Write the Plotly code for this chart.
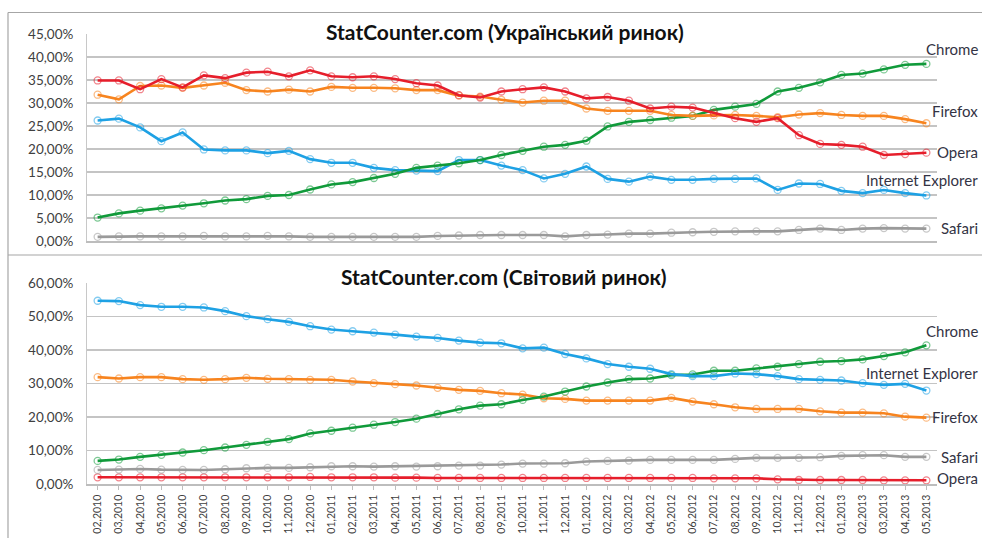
import plotly.graph_objects as go

months = ["02,2010", "03,2010", "04,2010", "05,2010", "06,2010", "07,2010", "08,2010", "09,2010",
          "10,2010", "11,2010", "12,2010", "01,2011", "02,2011", "03,2011", "04,2011", "05,2011",
          "06,2011", "07,2011", "08,2011", "09,2011", "10,2011", "11,2011", "12,2011", "01,2012",
          "02,2012", "03,2012", "04,2012", "05,2012", "06,2012", "07,2012", "08,2012", "09,2012",
          "10,2012", "11,2012", "12,2012", "01,2013", "02,2013", "03,2013", "04,2013", "05,2013"]

# Ukrainian market (%)
ua_chrome = [5.1, 6.0, 6.6, 7.1, 7.7, 8.2, 8.8, 9.1, 9.8, 10.0, 11.2, 12.3, 12.8, 13.7, 14.6, 15.9,
             16.4, 16.9, 17.6, 18.7, 19.6, 20.5, 20.9, 21.8, 24.9, 25.9, 26.3, 26.8, 27.2, 28.5,
             29.2, 29.8, 32.5, 33.3, 34.5, 36.1, 36.4, 37.3, 38.3, 38.5]
ua_firefox = [31.8, 30.8, 33.7, 33.8, 33.3, 33.8, 34.4, 32.8, 32.5, 32.9, 32.5, 33.5, 33.3, 33.3,
              33.2, 32.8, 32.8, 31.6, 31.4, 30.7, 30.1, 30.5, 30.5, 28.8, 28.3, 28.3, 28.3, 27.4,
              27.2, 27.3, 27.4, 27.2, 26.9, 27.5, 27.8, 27.4, 27.2, 27.2, 26.5, 25.6]
ua_opera = [34.9, 34.9, 33.0, 35.2, 33.4, 36.0, 35.4, 36.6, 36.8, 35.8, 37.1, 35.8, 35.6, 35.8,
            35.2, 34.3, 33.8, 31.7, 31.2, 32.5, 33.0, 33.4, 32.5, 31.0, 31.3, 30.5, 28.8, 29.2,
            29.0, 27.8, 26.7, 25.9, 26.7, 23.0, 21.1, 20.9, 20.5, 18.7, 18.9, 19.2]
ua_ie = [26.2, 26.6, 24.7, 21.7, 23.6, 19.9, 19.7, 19.7, 19.1, 19.6, 17.8, 17.0, 17.0, 15.9, 15.4,
         15.3, 15.2, 17.6, 17.6, 16.4, 15.4, 13.6, 14.6, 16.2, 13.5, 12.9, 14.0, 13.3, 13.3, 13.5,
         13.5, 13.6, 11.1, 12.5, 12.4, 10.9, 10.4, 11.1, 10.4, 9.9]
ua_safari = [0.9, 1.0, 1.0, 1.0, 1.0, 1.1, 1.0, 1.0, 1.1, 1.0, 0.9, 0.9, 0.9, 0.9, 0.9, 0.9, 1.1,
             1.2, 1.3, 1.3, 1.3, 1.3, 1.0, 1.3, 1.4, 1.6, 1.6, 1.8, 1.9, 2.0, 2.1, 2.1, 2.1, 2.4,
             2.7, 2.4, 2.7, 2.8, 2.7, 2.7]

# World market (%)
w_chrome = [6.9, 7.3, 8.1, 8.7, 9.4, 10.1, 10.9, 11.7, 12.6, 13.4, 15.1, 15.9, 16.8, 17.7, 18.5,
            19.5, 20.9, 22.3, 23.4, 23.8, 25.1, 26.1, 27.6, 29.1, 30.3, 31.3, 31.5, 32.5, 32.7,
            33.8, 33.8, 34.5, 35.0, 35.8, 36.5, 36.7, 37.2, 38.2, 39.3, 41.4]
w_firefox = [31.9, 31.5, 31.9, 31.9, 31.3, 31.1, 31.3, 31.7, 31.4, 31.3, 31.1, 31.1, 30.6, 30.1,
             29.8, 29.4, 28.7, 28.1, 27.8, 27.1, 26.7, 25.6, 25.4, 24.9, 24.9, 24.9, 24.9, 25.7,
             24.6, 23.8, 22.9, 22.4, 22.4, 22.4, 21.7, 21.3, 21.3, 21.1, 20.1, 19.8]
w_ie = [54.7, 54.6, 53.4, 52.9, 52.9, 52.7, 51.6, 50.1, 49.2, 48.4, 47.1, 46.1, 45.6, 45.2, 44.6,
        44.0, 43.6, 42.8, 42.2, 42.0, 40.5, 40.7, 38.8, 37.5, 35.8, 35.0, 34.4, 32.8, 32.2, 32.2,
        33.0, 32.8, 32.2, 31.3, 31.1, 30.9, 30.1, 29.6, 29.9, 27.9]
w_safari = [4.2, 4.3, 4.5, 4.3, 4.2, 4.2, 4.4, 4.7, 4.8, 4.8, 5.0, 5.3, 5.3, 5.2, 5.3, 5.2, 5.3,
            5.5, 5.5, 5.8, 6.1, 6.1, 6.2, 6.7, 6.9, 7.0, 7.2, 7.2, 7.2, 7.2, 7.5, 7.8, 7.8, 7.8,
            8.0, 8.4, 8.6, 8.6, 8.1, 8.1]
w_opera = [2.0, 2.0, 2.0, 2.0, 2.0, 2.0, 2.0, 2.0, 2.0, 2.0, 2.1, 2.0, 2.0, 2.0, 1.9, 1.9, 1.8,
           1.8, 1.8, 1.8, 1.8, 1.8, 1.8, 1.8, 1.8, 1.8, 1.8, 1.8, 1.8, 1.7, 1.7, 1.7, 1.4, 1.2,
           1.2, 1.2, 1.2, 1.1, 1.1, 1.1]

ua_ticks = [0, 5, 10, 15, 20, 25, 30, 35, 40, 45]
w_ticks = [0, 10, 20, 30, 40, 50, 60]

# The page's default body margin is removed (post_script below), so the figure
# fills the 982x538 window and positions are given in window pixels.
W, H = 982, 538
FONT = "Lato, 'Open Sans', sans-serif"
TXT = "#404040"

colors = {
    "Chrome": ("#109a3a", "rgba(16,154,58,0.55)"),
    "Firefox": ("#f7841f", "rgba(247,132,31,0.55)"),
    "Opera": ("#e61e2b", "rgba(230,30,43,0.55)"),
    "Internet Explorer": ("#1ea1e4", "rgba(30,161,228,0.55)"),
    "Safari": ("#9a9a9a", "rgba(154,154,154,0.55)"),
}

fig = go.Figure()

def add(series, name, ax):
    c, mc = colors[name]
    fig.add_trace(go.Scatter(
        x=list(range(len(months))), y=series, mode="lines+markers", name=name,
        xaxis="x" if ax == 1 else "x2", yaxis="y" if ax == 1 else "y2",
        line=dict(color=c, width=2.6),
        marker=dict(symbol="circle-open", size=7, color=mc, line=dict(width=1.3)),
        showlegend=False, hoverinfo="skip"))

add(ua_safari, "Safari", 1)
add(ua_ie, "Internet Explorer", 1)
add(ua_chrome, "Chrome", 1)
add(ua_firefox, "Firefox", 1)
add(ua_opera, "Opera", 1)

add(w_opera, "Opera", 2)
add(w_safari, "Safari", 2)
add(w_firefox, "Firefox", 2)
add(w_chrome, "Chrome", 2)
add(w_ie, "Internet Explorer", 2)

def px_x(p):
    return min(max(p / W, 0), 1)

def px_y(p):
    return min(max(1 - p / H, 0), 1)

xdom = [px_x(87), px_x(937)]
pct = lambda v: f"{v:.2f}".replace(".", ",") + "%"

yax_common = dict(showgrid=True, gridcolor="#c4c4c4", gridwidth=1.6, zeroline=False,
                  showline=True, linecolor="#c8c8c8", linewidth=1, automargin=False,
                  ticks="", tickfont=dict(family=FONT, size=13.5, color=TXT),
                  ticklabelstandoff=10, fixedrange=True)

fig.update_layout(
    width=W, height=H, autosize=False, margin=dict(l=0, r=0, t=0, b=0),
    paper_bgcolor="white", plot_bgcolor="white", hovermode=False, dragmode=False,
    xaxis=dict(domain=xdom, range=[-0.5, 39.5], anchor="y", showgrid=False, zeroline=False,
               showline=True, linecolor="#bdbdbd", linewidth=1.5, showticklabels=False,
               ticks="", tickvals=list(range(len(months))), automargin=False, fixedrange=True),
    yaxis=dict(domain=[px_y(241), px_y(34)], range=[0, 45], anchor="x",
               tickvals=ua_ticks, ticktext=[pct(v) for v in ua_ticks], **yax_common),
    xaxis2=dict(domain=xdom, range=[-0.5, 39.5], anchor="y2", showgrid=False, zeroline=False,
                showline=True, linecolor="#bdbdbd", linewidth=1.5, automargin=False,
                tickmode="array", tickvals=list(range(len(months))), ticktext=months,
                tickangle=-90, tickfont=dict(family=FONT, size=10.5, color=TXT),
                ticks="outside", ticklen=4, tickcolor="#bdbdbd", tickson="boundaries",
                ticklabelstandoff=1, fixedrange=True),
    yaxis2=dict(domain=[px_y(484), px_y(283)], range=[0, 60], anchor="x2",
                tickvals=w_ticks, ticktext=[pct(v) for v in w_ticks], **yax_common),
)

ann = []
ann.append(dict(text="<b>StatCounter.com (Український ринок)</b>", x=px_x(505), y=px_y(31),
                xref="paper", yref="paper", xanchor="center", yanchor="middle",
                showarrow=False, bgcolor="white",
                font=dict(family=FONT, size=21, color="#111111"), borderpad=3))
ann.append(dict(text="<b>StatCounter.com (Світовий ринок)</b>", x=px_x(504), y=px_y(276),
                xref="paper", yref="paper", xanchor="center", yanchor="middle",
                showarrow=False, bgcolor="white",
                font=dict(family=FONT, size=21, color="#111111"), borderpad=3))

labels = [("Chrome", 49), ("Firefox", 111), ("Opera", 152),
          ("Internet Explorer", 180), ("Safari", 228),
          ("Chrome", 331), ("Internet Explorer", 373), ("Firefox", 417),
          ("Safari", 457), ("Opera", 478)]
for t, yc in labels:
    ann.append(dict(text=t, x=px_x(980), y=px_y(yc), xref="paper", yref="paper",
                    xanchor="right", yanchor="middle", showarrow=False,
                    font=dict(family=FONT, size=15, color="#333344")))
fig.update_layout(annotations=ann)

shapes = [
    dict(type="line", xref="paper", yref="paper", x0=px_x(8), x1=1, y0=px_y(12.5), y1=px_y(12.5),
         line=dict(color="#a6a6a6", width=1.2)),
    dict(type="line", xref="paper", yref="paper", x0=px_x(8), x1=1, y0=px_y(255), y1=px_y(255),
         line=dict(color="#a6a6a6", width=1.2)),
    dict(type="line", xref="paper", yref="paper", x0=px_x(8), x1=px_x(8), y0=px_y(12.5), y1=0,
         line=dict(color="#a6a6a6", width=1.2)),
]
fig.update_layout(shapes=shapes)

fig.write_html("out.html", config={"displayModeBar": False, "staticPlot": True},
               post_script="document.body.style.margin='0';document.body.style.overflow='hidden';")
